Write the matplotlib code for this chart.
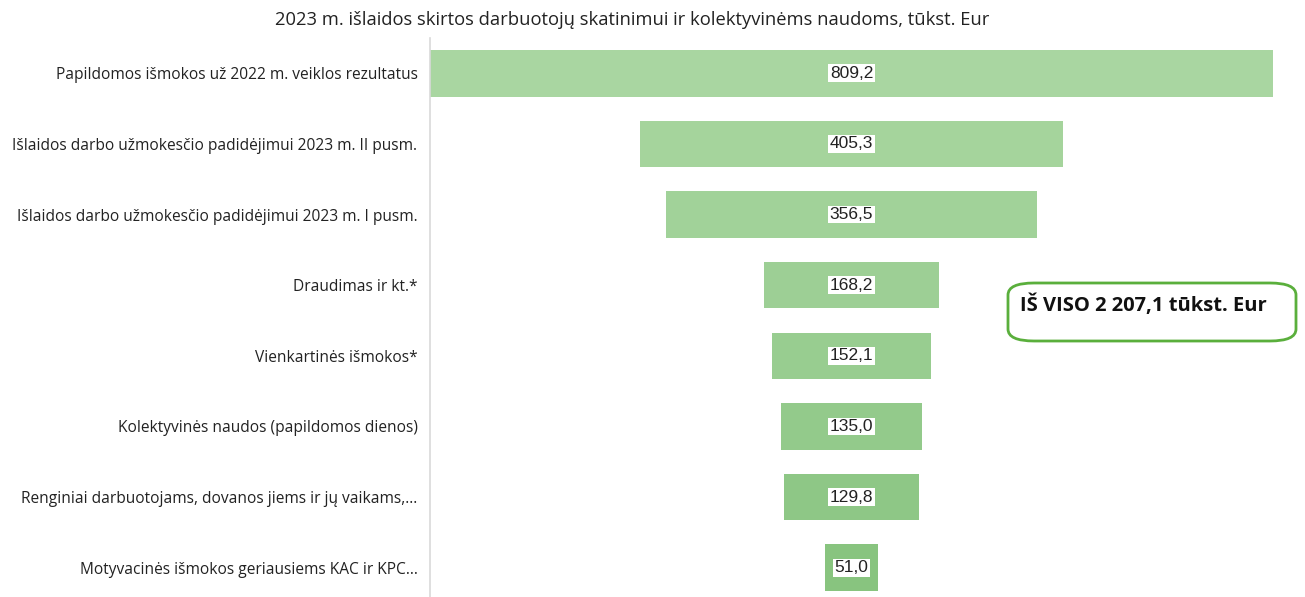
import numpy as np
import matplotlib.pyplot as plt
from matplotlib.patches import FancyBboxPatch

# --- Dados ---
categorias = [
    'Papildomos išmokos už 2022 m. veiklos rezultatus',
    'Išlaidos darbo užmokesčio padidėjimui 2023 m. II pusm.',
    'Išlaidos darbo užmokesčio padidėjimui 2023 m. I pusm.',
    'Draudimas ir kt.*',
    'Vienkartinės išmokos*',
    'Kolektyvinės naudos (papildomos dienos)',
    'Renginiai darbuotojams, dovanos jiems ir jų vaikams,...',
    'Motyvacinės išmokos geriausiems KAC ir KPC...',
]
valores = [809.2, 405.3, 356.5, 168.2, 152.1, 135.0, 129.8, 51.0]
rotulos = ['809,2', '405,3', '356,5', '168,2', '152,1', '135,0', '129,8', '51,0']
titulo = '2023 m. išlaidos skirtos darbuotojų skatinimui ir kolektyvinėms naudoms, tūkst. Eur'
total_txt = 'IŠ VISO 2 207,1 tūkst. Eur'

# cores de cima (mais clara) para baixo (mais escura)
cores = ['#a9d6a1', '#a5d49c', '#a1d299', '#9dcf95', '#98cd90', '#93ca8b', '#8ec786', '#88c47f']

fig = plt.figure(figsize=(13.05, 5.97), dpi=100)
ax = fig.add_axes([430 / 1305, 1 - 603 / 597, (1273 - 430) / 1305, 565 / 597])

n = len(valores)
y = np.arange(n)
vmax = max(valores)
esq = [-v / 2 for v in valores]
ax.barh(y, valores, left=esq, height=0.66, color=cores, edgecolor='none')

for i, (v, r) in enumerate(zip(valores, rotulos)):
    ax.text(0, i, r, ha='center', va='center', fontsize=12.5, family='Liberation Sans',
            color='#222222',
            bbox=dict(boxstyle='square,pad=0.08', facecolor='white', edgecolor='none'))

ax.set_xlim(-vmax / 2, vmax / 2)
ax.set_ylim(n - 0.5, -0.5)
ax.set_yticks(y)
ax.set_yticklabels(categorias, fontsize=11.2, family='Open Sans', color='#222222')
ax.tick_params(axis='y', length=0, pad=9)
ax.set_xticks([])
for s in ['top', 'right', 'bottom']:
    ax.spines[s].set_visible(False)
ax.spines['left'].set_color('#d9d9d9')
ax.spines['left'].set_linewidth(1.2)

fig.text(632 / 1305, 1 - 20 / 597, titulo, ha='center', va='center', fontsize=13.2,
         family='Open Sans', color='#222222')

# caixa do total
caixa = FancyBboxPatch((1008 / 1305, 1 - 341 / 597), 288 / 1305, 58 / 597,
                       boxstyle='round,pad=0,rounding_size=0.02', transform=fig.transFigure,
                       facecolor='white', edgecolor='#5aaf3c', linewidth=2)
fig.patches.append(caixa)
fig.text(1020 / 1305, 1 - 305 / 597, total_txt, ha='left', va='center', fontsize=14.5,
         fontweight='bold', family='Open Sans', color='#111111')

fig.savefig('out.png', dpi=100)
